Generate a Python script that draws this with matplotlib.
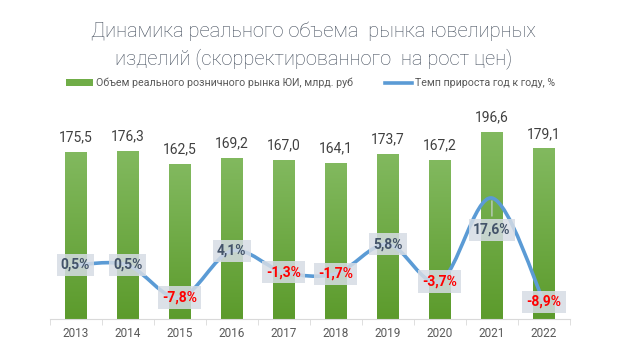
import numpy as np
import matplotlib
matplotlib.use("Agg")
import matplotlib.pyplot as plt
from matplotlib.path import Path
from matplotlib.patches import PathPatch, Patch
from matplotlib.lines import Line2D
from matplotlib.colors import LinearSegmentedColormap

plt.rcParams['font.family'] = ['Roboto', 'DejaVu Sans']

years = ['2013', '2014', '2015', '2016', '2017', '2018', '2019', '2020', '2021', '2022']
volume = [175.5, 176.3, 162.5, 169.2, 167.0, 164.1, 173.7, 167.2, 196.6, 179.1]
growth = [0.5, 0.5, -7.8, 4.1, -1.3, -1.7, 5.8, -3.7, 17.6, -8.9]
legend_labels = ['Объем реального розничного рынка ЮИ, млрд. руб', 'Темп прироста год к году, %']
title = 'Динамика реального объема  рынка ювелирных\nизделий (скорректированного  на рост цен)'

W, H = 624, 363
fig = plt.figure(figsize=(W / 100, H / 100), dpi=100)
ax = fig.add_axes([49.5 / W, 44 / H, 520.5 / W, 219 / H])
x = np.arange(len(years))

ax.set_xlim(-0.5, len(years) - 0.5)
ax.set_ylim(0, 230)
bars = ax.bar(x, volume, width=0.41, color='none', zorder=2)
cmap = LinearSegmentedColormap.from_list('g', ['#5c9b2c', '#82b95f'])
grad = np.linspace(0, 1, 256).reshape(-1, 1)
for b in bars:
    im = ax.imshow(grad, cmap=cmap, origin='lower', aspect='auto',
                   extent=[b.get_x(), b.get_x() + b.get_width(), 0, b.get_height()], zorder=2)
    im.set_clip_path(b)
ax.set_xlim(-0.5, len(years) - 0.5)
ax.set_ylim(0, 230)

for xi, v in zip(x, volume):
    ax.annotate(f'{v:.1f}'.replace('.', ','), (xi, v), xytext=(0, 10.5), textcoords='offset points',
                ha='center', va='center', fontsize=10, color='#404040')

for s in ['top', 'left', 'right']:
    ax.spines[s].set_visible(False)
ax.spines['bottom'].set_color('#d9d9d9')
ax.set_yticks([])
ax.set_xticks(x)
ax.set_xticklabels(years, fontsize=8.5, color='#595959')
ax.tick_params(axis='x', which='major', length=0, pad=6)
ax.set_xticks(np.arange(-0.5, len(years), 1), minor=True)
ax.tick_params(axis='x', which='minor', length=4, color='#d9d9d9')

ax2 = ax.twinx()
ax2.set_ylim(-13.26, 42.6)
ax2.set_yticks([])
for s in ax2.spines.values():
    s.set_visible(False)

pts = np.column_stack([x, growth]).astype(float)
verts = [pts[0]]
codes = [Path.MOVETO]
n = len(pts)
for i in range(n - 1):
    p0 = pts[i - 1] if i > 0 else pts[i]
    p1 = pts[i]
    p2 = pts[i + 1]
    p3 = pts[i + 2] if i + 2 < n else pts[i + 1]
    c1 = p1 + (p2 - p0) / 6
    c2 = p2 - (p3 - p1) / 6
    verts += [c1, c2, p2]
    codes += [Path.CURVE4] * 3
ax2.add_patch(PathPatch(Path(verts, codes), fill=False, edgecolor='#5b9bd5', lw=2.6,
                        capstyle='round', joinstyle='round', zorder=3))

for xi, g in zip(x, growth):
    txt = f'{g:.1f}%'.replace('.', ',')
    col = '#ff0000' if g < 0 else '#44546a'
    off = -32 if g > 15 else 0
    if off:
        ax2.annotate('', (xi, g), xytext=(0, off * 0.72 + 8), textcoords='offset points',
                     arrowprops=dict(arrowstyle='-', color='#d0d5dc', lw=0.8), zorder=4)
    ax2.annotate(txt, (xi, g), xytext=(0, off * 0.72), textcoords='offset points',
                 ha='center', va='center', fontsize=10, fontweight='bold', color=col, zorder=5,
                 bbox=dict(boxstyle='square,pad=0.3', fc='#d6dce5', ec='none', alpha=0.85))

fig.text(0.502, 1 - 45 / H, title, ha='center', va='center', fontsize=14.5, color='#434d5c',
         linespacing=1.45, fontweight='light')

handles = [Patch(facecolor='#70ad47', edgecolor='none'),
           Line2D([0], [0], color='#5b9bd5', lw=2.6)]
fig.legend(handles, legend_labels, loc='center', bbox_to_anchor=(0.497, 1 - 83 / H), ncol=2,
           frameon=False, fontsize=7.7, labelcolor='#595959', handlelength=2.6, handleheight=0.6,
           columnspacing=3.0, handletextpad=0.2)

fig.savefig('out.png', dpi=100, facecolor='white')
